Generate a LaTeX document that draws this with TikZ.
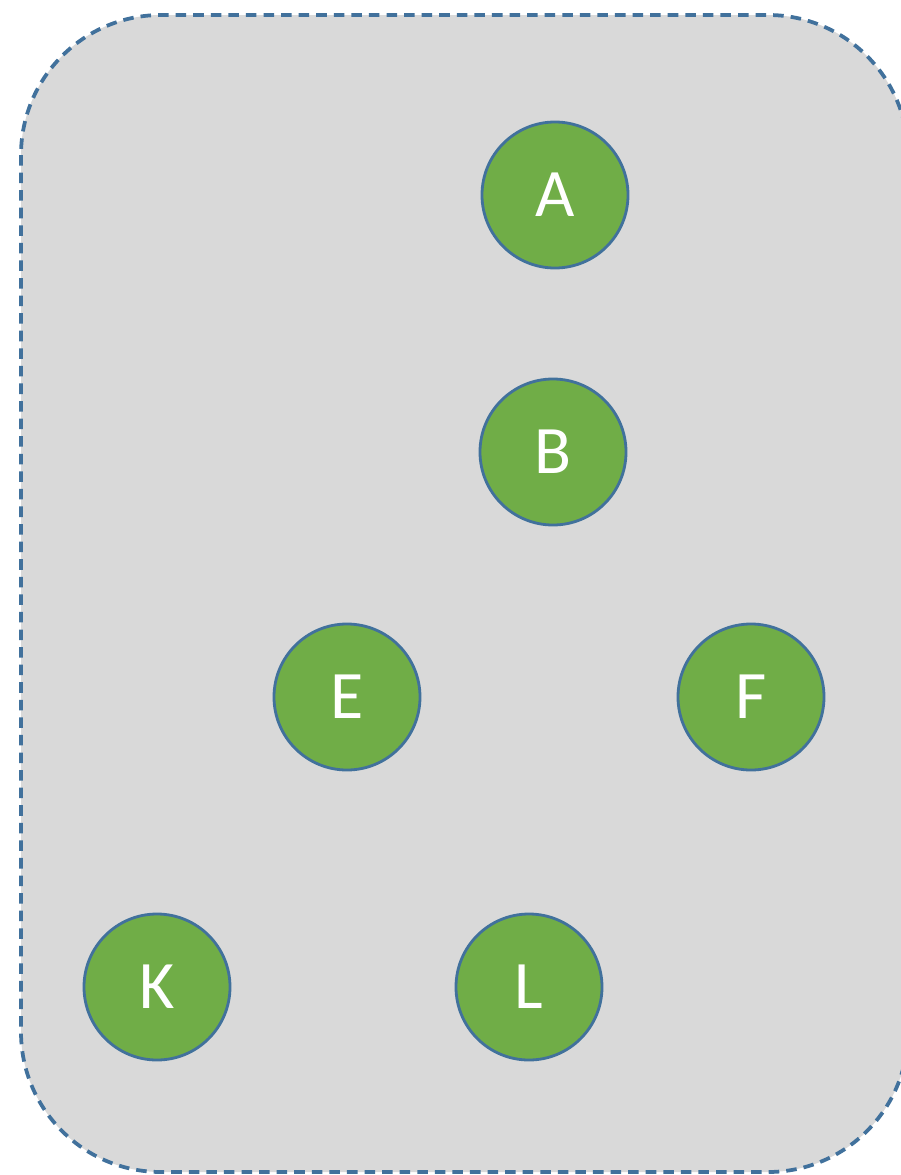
\documentclass[tikz,border=0pt]{standalone}
\usepackage{fontspec}
\setmainfont{Carlito}
\usetikzlibrary{positioning}
\definecolor{cG}{HTML}{70AD47}
\definecolor{cB}{HTML}{41719C}
\definecolor{cS}{HTML}{D9D9D9}
\tikzset{
  vtx/.style={circle,draw=cB,line width=2.4pt,fill=cG,minimum size=4.38cm,
              inner sep=0pt,text=white,font=\fontsize{58}{62}\selectfont},
  frame/.style={draw=cB,fill=cS,line width=3.2pt,dash pattern=on 9pt off 6pt,
              rounded corners=4.2cm},
}

\begin{document}
\begin{tikzpicture}[x=0.03cm,y=-0.03cm]
  \useasboundingbox (0,0) rectangle (901,1175);
  \draw[frame] (21,15) rectangle (908,1172);
  \node[vtx] (A) at (555,195){A};
  \node[vtx] (B) at (553,452){B};
  \node[vtx] (E) at (347,697){E};
  \node[vtx] (F) at (751,697){F};
  \node[vtx] (K) at (157,987){K};
  \node[vtx] (L) at (529,987){L};
\end{tikzpicture}
\end{document}
